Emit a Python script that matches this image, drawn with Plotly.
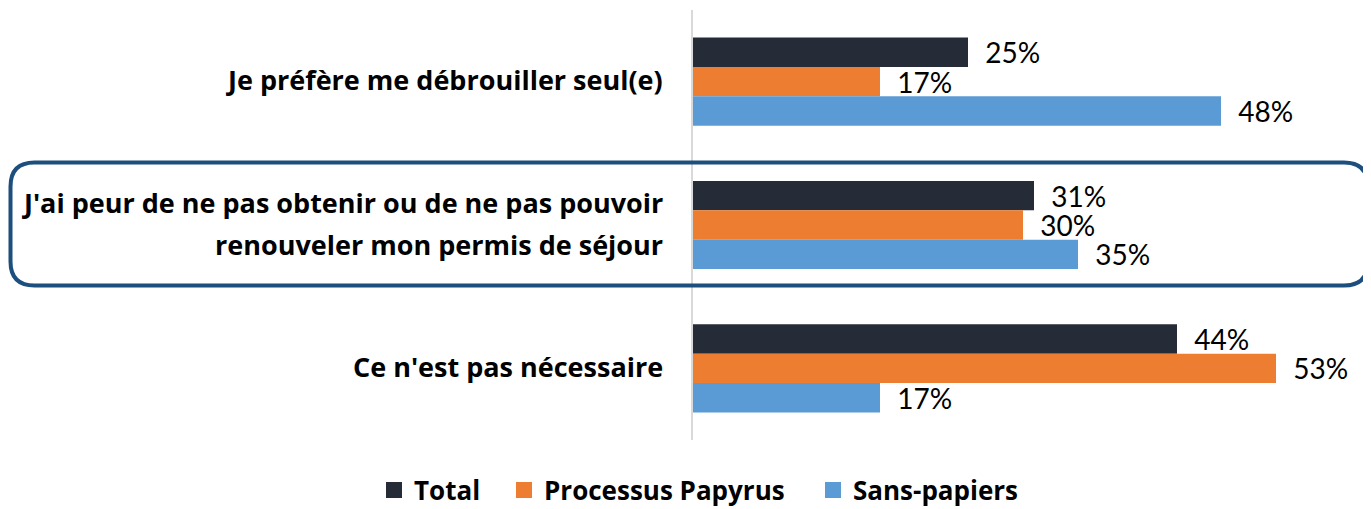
import plotly.graph_objects as go

categories = ["Je préfère me débrouiller seul(e)",
              "J'ai peur de ne pas obtenir ou de ne pas pouvoir<br>renouveler mon permis de séjour",
              "Ce n'est pas nécessaire"]
series_names = ["Total", "Processus Papyrus", "Sans-papiers"]
total = [25, 31, 44]
papyrus = [17, 30, 53]
sans_papiers = [48, 35, 17]
colors = ["#252b37", "#ed7d31", "#5b9bd5"]

VAL_FONT = "Lato, Calibri, Arial, sans-serif"
BOLD_FONT = "Open Sans, Arial, sans-serif"

# page offset (browser body margin)
OFF = 8
W, H = 1363, 501
L, R, T, B = 685, 18, 2, 69
pw, ph = W - L - R, H - T - B

fig = go.Figure()
for name, vals, col in zip(series_names, [total, papyrus, sans_papiers], colors):
    fig.add_trace(go.Bar(
        y=categories, x=vals, name=name, orientation="h",
        marker=dict(color=col, line=dict(width=0)),
        text=[f"{v}%" for v in vals], textposition="outside",
        texttemplate="  %{text}", constraintext="none",
        textfont=dict(family=VAL_FONT, size=28, color="#000000"),
        cliponaxis=False, showlegend=False,
    ))

# legend entries (one legend per series so spacing matches)
legend_left_page = [394, 524, 833]  # centre of the legend square on the page
for i, (name, col) in enumerate(zip(series_names, colors)):
    lid = "legend" if i == 0 else f"legend{i + 1}"
    fig.add_trace(go.Scatter(
        x=[None], y=[None], mode="markers", name=name,
        marker=dict(symbol="square", size=16, color=col),
        legend=lid, showlegend=True,
    ))

legend_common = dict(orientation="h", xref="container", yref="container",
                     xanchor="left", y=(H - (490 - OFF)) / H, yanchor="middle",
                     font=dict(family=BOLD_FONT, size=26, color="#000000", weight="bold"),
                     itemwidth=30, bgcolor="rgba(0,0,0,0)")
legends = {}
for i, cx in enumerate(legend_left_page):
    key = "legend" if i == 0 else f"legend{i + 1}"
    legends[key] = dict(legend_common, x=(cx - OFF - 20) / W)


def px(x):
    return (x - OFF - L) / pw


def py(y):
    return (H - B - (y - OFF)) / ph


# rounded rectangle highlighting the second category
x0, x1, y0, y1, r = 10.5, 1368, 162.5, 285.5, 24
path = (f"M {px(x0 + r)},{py(y0)} L {px(x1 - r)},{py(y0)} "
        f"Q {px(x1)},{py(y0)} {px(x1)},{py(y0 + r)} "
        f"L {px(x1)},{py(y1 - r)} Q {px(x1)},{py(y1)} {px(x1 - r)},{py(y1)} "
        f"L {px(x0 + r)},{py(y1)} Q {px(x0)},{py(y1)} {px(x0)},{py(y1 - r)} "
        f"L {px(x0)},{py(y0 + r)} Q {px(x0)},{py(y0)} {px(x0 + r)},{py(y0)} Z")
fig.add_shape(type="path", path=path, xref="paper", yref="paper",
              line=dict(color="#1c4f7e", width=4), layer="above")

annotations = []
for c in categories:
    lines = c.split("<br>")
    n = len(lines)
    for i, ln in enumerate(lines):
        shift = (n - 1) * 21 - i * 42 + 2
        annotations.append(dict(x=0, xref="paper", y=c, yref="y", text=f"<b>{ln}</b>",
                                xanchor="right", yanchor="middle", align="right",
                                xshift=-28, yshift=shift, showarrow=False,
                                font=dict(family=BOLD_FONT, size=27, color="#000000")))

fig.update_layout(
    width=W, height=H,
    margin=dict(l=L, r=R, t=T, b=B),
    barmode="group", bargap=0.385, bargroupgap=0,
    plot_bgcolor="white", paper_bgcolor="white",
    annotations=annotations,
    xaxis=dict(range=[0, 60], visible=False, fixedrange=True),
    yaxis=dict(autorange="reversed", showticklabels=False, showgrid=False,
               showline=True, linecolor="#d9d9d9", linewidth=2, ticks="",
               zeroline=False),
    showlegend=True,
    **legends,
)

fig.write_html("out.html")
